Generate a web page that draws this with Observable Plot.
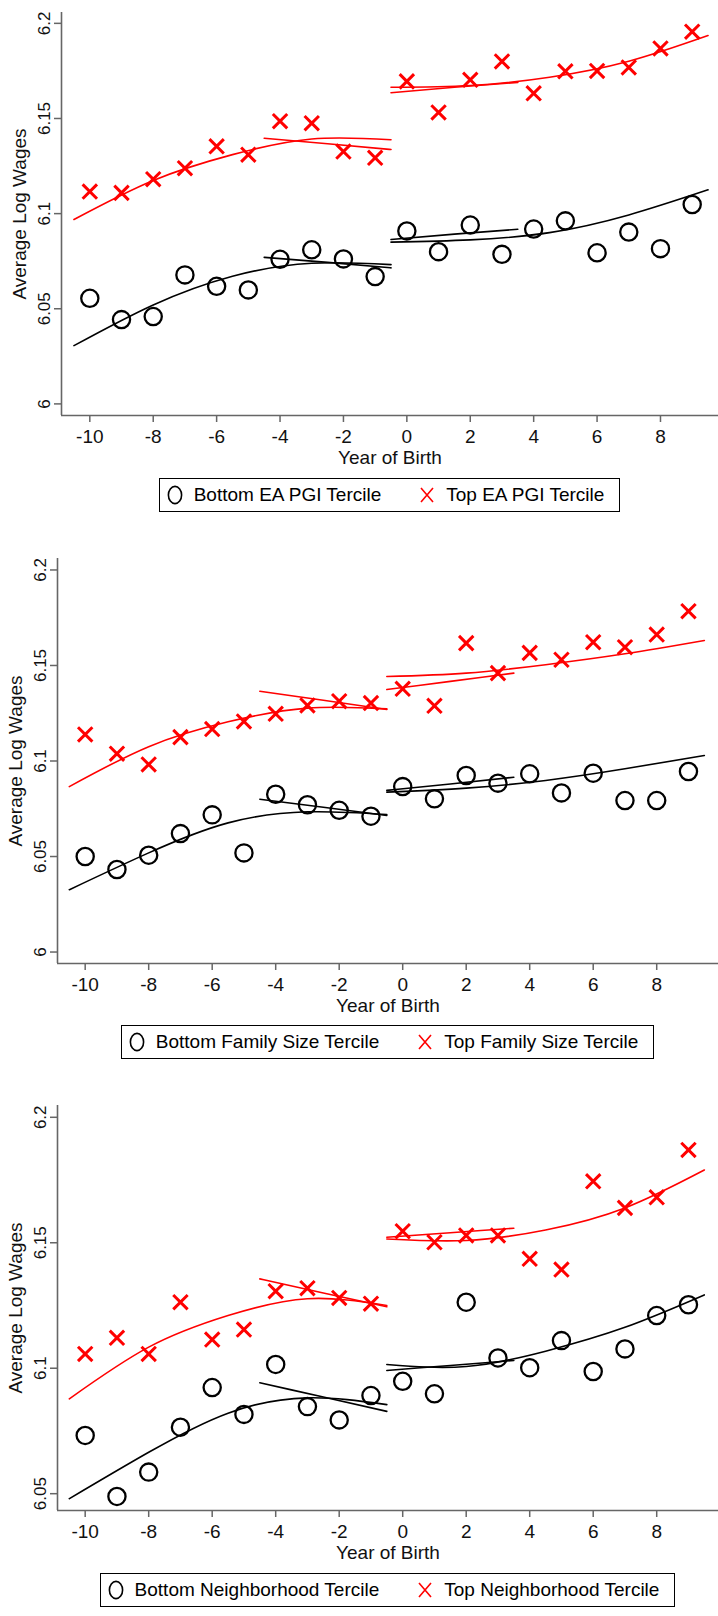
<!DOCTYPE html>
<html>
<head>
<meta charset="utf-8">
<script src="https://cdn.jsdelivr.net/npm/d3@7"></script>
<script src="https://cdn.jsdelivr.net/npm/@observablehq/plot@0.6"></script>
<style>
  body { margin: 0; background: #fff; font-family: "Liberation Sans", Arial, Helvetica, sans-serif; }
  #page { position: relative; width: 718px; height: 1616px; overflow: hidden; background: #fff; }
  .panel { position: absolute; left: 0; }
  .legwrap { position: absolute; right: 0; display: flex; justify-content: center; }
  .legend { display: flex; align-items: center; height: 34px; box-sizing: border-box; border: 1.3px solid #000;
            padding: 0 15px 0 7px; font-size: 19px; color: #000; background: #fff; white-space: nowrap; }
  .item { display: flex; align-items: center; }
  .item svg { margin-right: 11px; }
  .item + .item { margin-left: 38px; }
</style>
</head>
<body>
<div id="page"></div>
<script>
// ---------- data ----------
const years = [-10, -9, -8, -7, -6, -5, -4, -3, -2, -1, 0, 1, 2, 3, 4, 5, 6, 7, 8, 9];
const xTicks = [-10, -8, -6, -4, -2, 0, 2, 4, 6, 8];
const yTicks1 = [6, 6.05, 6.1, 6.15, 6.2];
const yTicks2 = [6, 6.05, 6.1, 6.15, 6.2];
const yTicks3 = [6.05, 6.1, 6.15, 6.2];

// fitted-curve sample positions
const longLeftX = [-10.5, -8, -5.5, -3, -0.5];
const shortLeftX = [-4.5, -2.5, -0.5];
const longRightX = [-0.5, 2, 4.5, 7, 9.5];
const shortRightX = [-0.5, 1.5, 3.5];

// Panel 1: EA PGI
const legendLabels1 = ["Bottom EA PGI Tercile", "Top EA PGI Tercile"];
const bottom1 = [6.0555, 6.0443, 6.0459, 6.0678, 6.0618, 6.0599, 6.0760, 6.0810, 6.0762, 6.0669,
                 6.0909, 6.0800, 6.0940, 6.0786, 6.0919, 6.0962, 6.0794, 6.0903, 6.0816, 6.1048];
const top1 = [6.1116, 6.1109, 6.1181, 6.1239, 6.1354, 6.1310, 6.1486, 6.1475, 6.1326, 6.1293,
              6.1695, 6.1532, 6.1703, 6.1800, 6.1632, 6.1748, 6.1750, 6.1768, 6.1868, 6.1956];
const bottom1LongLeft = [6.0306, 6.0520, 6.0671, 6.0739, 6.0732];
const bottom1ShortLeft = [6.0770, 6.0744, 6.0715];
const bottom1LongRight = [6.0850, 6.0862, 6.0900, 6.0993, 6.1125];
const bottom1ShortRight = [6.0864, 6.0892, 6.0918];
const top1LongLeft = [6.0969, 6.1174, 6.1310, 6.1392, 6.1388];
const top1ShortLeft = [6.1396, 6.1367, 6.1337];
const top1LongRight = [6.1664, 6.1673, 6.1717, 6.1801, 6.1936];
const top1ShortRight = [6.1635, 6.1664, 6.1690];

// Panel 2: Family size
const legendLabels2 = ["Bottom Family Size Tercile", "Top Family Size Tercile"];
const bottom2 = [6.0500, 6.0432, 6.0507, 6.0620, 6.0718, 6.0519, 6.0826, 6.0771, 6.0742, 6.0711,
                 6.0866, 6.0802, 6.0924, 6.0884, 6.0933, 6.0833, 6.0936, 6.0793, 6.0793, 6.0945];
const top2 = [6.1139, 6.1038, 6.0982, 6.1125, 6.1167, 6.1207, 6.1247, 6.1291, 6.1313, 6.1303,
              6.1378, 6.1289, 6.1617, 6.1460, 6.1566, 6.1530, 6.1622, 6.1596, 6.1662, 6.1784];
const bottom2LongLeft = [6.0326, 6.0519, 6.0676, 6.0734, 6.0720];
const bottom2ShortLeft = [6.0800, 6.0758, 6.0715];
const bottom2LongRight = [6.0837, 6.0858, 6.0898, 6.0959, 6.1029];
const bottom2ShortRight = [6.0846, 6.0880, 6.0915];
const top2LongLeft = [6.0866, 6.1075, 6.1205, 6.1277, 6.1273];
const top2ShortLeft = [6.1365, 6.1318, 6.1270];
const top2LongRight = [6.1442, 6.1460, 6.1504, 6.1561, 6.1631];
const top2ShortRight = [6.1374, 6.1417, 6.1460];

// Panel 3: Neighborhood
const legendLabels3 = ["Bottom Neighborhood Tercile", "Top Neighborhood Tercile"];
const bottom3 = [6.0732, 6.0489, 6.0586, 6.0765, 6.0923, 6.0816, 6.1015, 6.0847, 6.0794, 6.0891,
                 6.0948, 6.0898, 6.1263, 6.1041, 6.1002, 6.1110, 6.0987, 6.1077, 6.1210, 6.1253];
const top3 = [6.1057, 6.1121, 6.1057, 6.1263, 6.1114, 6.1154, 6.1307, 6.1319, 6.1280, 6.1257,
              6.1546, 6.1502, 6.1529, 6.1529, 6.1436, 6.1393, 6.1745, 6.1639, 6.1681, 6.1870];
const bottom3LongLeft = [6.0480, 6.0665, 6.0821, 6.0882, 6.0855];
const bottom3ShortLeft = [6.0942, 6.0885, 6.0828];
const bottom3LongRight = [6.1015, 6.1007, 6.1068, 6.1163, 6.1292];
const bottom3ShortRight = [6.0991, 6.1011, 6.1031];
const top3LongLeft = [6.0878, 6.1084, 6.1210, 6.1277, 6.1250];
const top3ShortLeft = [6.1356, 6.1300, 6.1245];
const top3LongRight = [6.1515, 6.1509, 6.1551, 6.1639, 6.1790];
const top3ShortRight = [6.1522, 6.1540, 6.1558];

const xLabel = "Year of Birth";
const yLabel = "Average Log Wages";

// ---------- layout ----------
const FONT = '"Liberation Sans", Arial, Helvetica, sans-serif';
const AXIS = "#666666";
const panels = [
  { top: 0, height: 465, marginLeft: 61, xDomain: [-10.893, 9.83], yDomain: [5.9939, 6.2057], yTicks: yTicks1, legendTop: 478,
    bottom: bottom1, topv: top1, legend: legendLabels1,
    fits: [[longLeftX, bottom1LongLeft, "#000"], [shortLeftX, bottom1ShortLeft, "#000"], [longRightX, bottom1LongRight, "#000"], [shortRightX, bottom1ShortRight, "#000"],
           [longLeftX, top1LongLeft, "#ff0000"], [shortLeftX, top1ShortLeft, "#ff0000"], [longRightX, top1LongRight, "#ff0000"], [shortRightX, top1ShortRight, "#ff0000"]] },
  { top: 546, height: 467, marginLeft: 57, xDomain: [-10.872, 9.946], yDomain: [5.994, 6.206], yTicks: yTicks2, legendTop: 1025,
    bottom: bottom2, topv: top2, legend: legendLabels2,
    fits: [[longLeftX, bottom2LongLeft, "#000"], [shortLeftX, bottom2ShortLeft, "#000"], [longRightX, bottom2LongRight, "#000"], [shortRightX, bottom2ShortRight, "#000"],
           [longLeftX, top2LongLeft, "#ff0000"], [shortLeftX, top2ShortLeft, "#ff0000"], [longRightX, top2LongRight, "#ff0000"], [shortRightX, top2ShortRight, "#ff0000"]] },
  { top: 1093, height: 467, marginLeft: 57, xDomain: [-10.872, 9.946], yDomain: [6.0433, 6.2047], yTicks: yTicks3, legendTop: 1573,
    bottom: bottom3, topv: top3, legend: legendLabels3,
    fits: [[longLeftX, bottom3LongLeft, "#000"], [shortLeftX, bottom3ShortLeft, "#000"], [longRightX, bottom3LongRight, "#000"], [shortRightX, bottom3ShortRight, "#000"],
           [longLeftX, top3LongLeft, "#ff0000"], [shortLeftX, top3ShortLeft, "#ff0000"], [longRightX, top3LongRight, "#ff0000"], [shortRightX, top3ShortRight, "#ff0000"]] }
];

const page = document.getElementById("page");

for (const p of panels) {
  const circles = years.map((x, i) => ({ x, y: p.bottom[i] }));
  const crosses = years.map((x, i) => ({ x, y: p.topv[i] }));
  const marks = [];
  for (const [xs, ys, color] of p.fits) {
    marks.push(Plot.line(xs.map((x, i) => ({ x, y: ys[i] })), { x: "x", y: "y", stroke: color, strokeWidth: 1.6, curve: "natural" }));
  }
  marks.push(
    Plot.dot(circles, { x: "x", y: "y", r: 8.6, stroke: "#000", strokeWidth: 2.3, fill: "none" }),
    Plot.dot(crosses, { x: "x", y: "y", symbol: "times", r: 6.6, stroke: "#ff0000", strokeWidth: 3 }),
    Plot.ruleX([p.xDomain[0]], { stroke: AXIS, strokeWidth: 1.6 }),
    Plot.ruleY([p.yDomain[0]], { stroke: AXIS, strokeWidth: 1.6 }),
    Plot.axisX(xTicks, { anchor: "bottom", tickSize: 7, tickPadding: 7, fontSize: 19, stroke: AXIS, fill: "#111", strokeWidth: 1.5, label: null, tickFormat: d => d < 0 ? "-" + Math.abs(d) : String(d) }),
    Plot.axisY(p.yTicks, { anchor: "left", tickSize: 7, tickPadding: 5, tickRotate: -90, fontSize: 17, stroke: AXIS, fill: "#111", strokeWidth: 1.5, label: null, tickFormat: d => String(d) }),
    Plot.text([xLabel], { frameAnchor: "bottom", textAnchor: "middle", lineAnchor: "middle", dy: 42, fontSize: 19, fill: "#111" }),
    Plot.text([yLabel], { frameAnchor: "left", textAnchor: "middle", lineAnchor: "middle", dx: -42, rotate: -90, fontSize: 19, fill: "#111" })
  );
  const chart = Plot.plot({
    width: 718, height: p.height,
    marginLeft: p.marginLeft, marginRight: 0, marginTop: 12, marginBottom: 50,
    x: { domain: p.xDomain, axis: null },
    y: { domain: p.yDomain, axis: null },
    style: { fontFamily: FONT, background: "transparent", overflow: "visible" },
    marks
  });
  const holder = document.createElement("div");
  holder.className = "panel";
  holder.style.top = p.top + "px";
  holder.appendChild(chart);
  page.appendChild(holder);

  const wrap = document.createElement("div");
  wrap.className = "legwrap";
  wrap.style.top = p.legendTop + "px";
  wrap.style.left = p.marginLeft + "px";
  wrap.innerHTML = `<div class="legend">
    <div class="item"><svg width="16" height="22" viewBox="0 0 16 22"><ellipse cx="8" cy="11" rx="6.6" ry="8.6" fill="none" stroke="#000" stroke-width="1.6"/></svg><span>${p.legend[0]}</span></div>
    <div class="item"><svg width="16" height="22" viewBox="0 0 16 22"><path d="M2,4 L14,18 M14,4 L2,18" stroke="#ff0000" stroke-width="1.6"/></svg><span>${p.legend[1]}</span></div>
  </div>`;
  page.appendChild(wrap);
}
</script>
</body>
</html>
